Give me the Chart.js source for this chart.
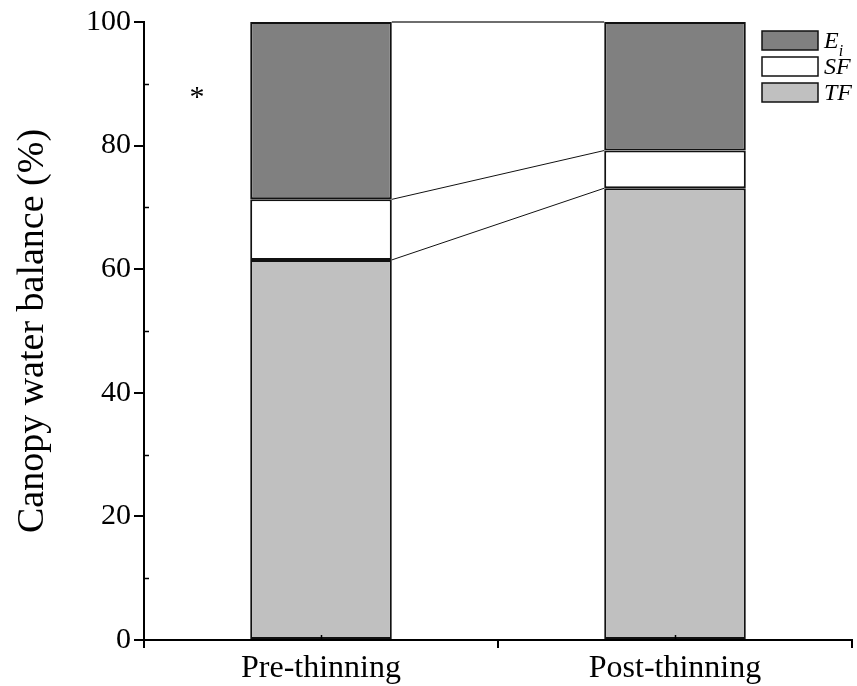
<!DOCTYPE html>
<html>
<head>
<meta charset="utf-8">
<script src="https://cdn.jsdelivr.net/npm/chart.js@4/dist/chart.umd.min.js"></script>
<style>
  html, body { margin: 0; padding: 0; background: #fff; }
  #wrap { width: 857px; height: 686px; }
</style>
</head>
<body>
<div id="wrap"><canvas id="c" width="857" height="686"></canvas></div>
<script>
// Canopy water balance: throughfall (TF), stemflow (SF) and interception loss (Ei), % of gross rainfall
const categories = ['Pre-thinning', 'Post-thinning'];
const tfValues = [61.5, 73.1];
const sfValues = [9.8, 6.1];
const eiValues = [28.7, 20.8];
const yTickValues = [0, 20, 40, 60, 80, 100];
const yMinorTicks = [10, 30, 50, 70, 90];
const legendItems = [
  { main: 'E', sub: 'i', color: '#808080' },
  { main: 'SF', sub: '', color: '#ffffff' },
  { main: 'TF', sub: '', color: '#c0c0c0' }
];
const significanceMark = { text: '*', x: -0.35, y: 88.6 };

const serif = '"Liberation Serif", "Times New Roman", serif';

// Lines joining the tops of matching segments between neighbouring bars
const connectorPlugin = {
  id: 'connectors',
  afterDatasetsDraw(chart) {
    const ctx = chart.ctx;
    const y = chart.scales.y;
    const bars = chart.getDatasetMeta(0).data;
    const levels = categories.map((_, i) => [
      tfValues[i],
      tfValues[i] + sfValues[i],
      tfValues[i] + sfValues[i] + eiValues[i]
    ]);
    ctx.save();
    for (let k = 0; k < 3; k++) {
      for (let i = 0; i < bars.length - 1; i++) {
        const a = bars[i], b = bars[i + 1];
        ctx.beginPath();
        ctx.moveTo(a.x + a.width / 2, y.getPixelForValue(levels[i][k]));
        ctx.lineTo(b.x - b.width / 2, y.getPixelForValue(levels[i + 1][k]));
        ctx.strokeStyle = k === 2 ? '#6e6e6e' : '#111';
        ctx.lineWidth = k === 2 ? 2 : 1;
        ctx.stroke();
      }
    }
    ctx.restore();
  }
};

// Minor ticks pointing into the plot, the significance mark and the legend
const decorPlugin = {
  id: 'decor',
  afterDraw(chart) {
    const ctx = chart.ctx;
    const xs = chart.scales.x, ys = chart.scales.y;
    const area = chart.chartArea;
    ctx.save();
    ctx.strokeStyle = '#000';
    ctx.lineWidth = 1.5;
    yMinorTicks.forEach(v => {
      const py = Math.round(ys.getPixelForValue(v)) + 0.5;
      ctx.beginPath();
      ctx.moveTo(area.left, py);
      ctx.lineTo(area.left + 5, py);
      ctx.stroke();
    });
    categories.forEach((_, i) => {
      const px = Math.round(xs.getPixelForValue(i)) + 0.5;
      ctx.beginPath();
      ctx.moveTo(px, area.bottom);
      ctx.lineTo(px, area.bottom - 5);
      ctx.stroke();
    });

    // significance mark
    ctx.fillStyle = '#000';
    ctx.font = '30px ' + serif;
    ctx.textAlign = 'center';
    ctx.textBaseline = 'middle';
    ctx.fillText(significanceMark.text, xs.getPixelForValue(significanceMark.x), ys.getPixelForValue(significanceMark.y) + 6);

    // legend
    const bx = area.right - 90, bw = 56, bh = 19;
    legendItems.forEach((it, k) => {
      const by = area.top + 9 + k * 26;
      ctx.fillStyle = it.color;
      ctx.fillRect(bx, by, bw, bh);
      ctx.strokeStyle = '#111';
      ctx.lineWidth = 1.5;
      ctx.strokeRect(bx, by, bw, bh);
      ctx.fillStyle = '#000';
      ctx.textAlign = 'left';
      ctx.textBaseline = 'middle';
      ctx.font = 'italic 24px ' + serif;
      const tx = bx + bw + 6;
      ctx.fillText(it.main, tx, by + bh / 2 + 1);
      if (it.sub) {
        const w = ctx.measureText(it.main).width;
        ctx.font = 'italic 16px ' + serif;
        ctx.fillText(it.sub, tx + w, by + bh / 2 + 11);
      }
    });
    ctx.restore();
  }
};

const barStyle = { borderColor: '#111', borderWidth: 2, borderSkipped: false,
                   barPercentage: 0.4, categoryPercentage: 1.0 };

new Chart(document.getElementById('c'), {
  type: 'bar',
  data: {
    labels: categories,
    datasets: [
      Object.assign({ label: 'TF', data: tfValues, backgroundColor: '#c0c0c0' }, barStyle),
      Object.assign({ label: 'SF', data: sfValues, backgroundColor: '#ffffff' }, barStyle),
      Object.assign({ label: 'Ei', data: eiValues, backgroundColor: '#808080' }, barStyle)
    ]
  },
  options: {
    responsive: false,
    animation: false,
    layout: { padding: { top: 22, right: 5, left: 0, bottom: 0 } },
    plugins: { legend: { display: false }, tooltip: { enabled: false } },
    scales: {
      x: {
        stacked: true,
        offset: true,
        afterFit(s) { s.height = 46; },
        grid: { offset: true, drawOnChartArea: false, drawTicks: true, tickLength: 8,
                color: '#000', lineWidth: 2 },
        border: { color: '#000', width: 2 },
        ticks: { color: '#000', font: { family: serif, size: 32 }, padding: 1 }
      },
      y: {
        stacked: true,
        min: 0, max: 100,
        afterFit(s) { s.width = 144; },
        afterBuildTicks(s) { s.ticks = yTickValues.map(v => ({ value: v })); },
        grid: { drawOnChartArea: false, drawTicks: true, tickLength: 10,
                color: '#000', lineWidth: 2 },
        border: { color: '#000', width: 2 },
        ticks: { color: '#000', font: { family: serif, size: 30 }, padding: 3 },
        title: { display: true, text: 'Canopy water balance (%)', color: '#000',
                 font: { family: serif, size: 38 }, padding: { top: 10, bottom: 0 } }
      }
    }
  },
  plugins: [connectorPlugin, decorPlugin]
});
</script>
</body>
</html>
